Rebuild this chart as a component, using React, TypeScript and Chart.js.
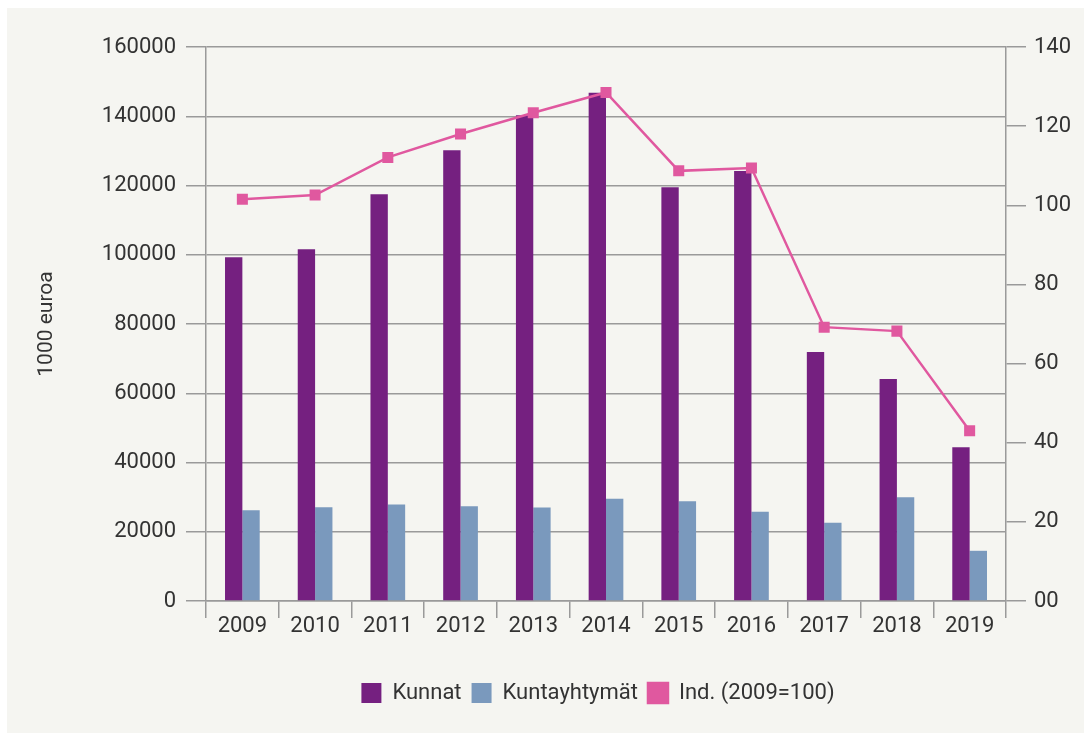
import React, { useEffect, useRef } from "react";
import { Chart, registerables } from "chart.js";

Chart.register(...registerables);

const years = ["2009", "2010", "2011", "2012", "2013", "2014", "2015", "2016", "2017", "2018", "2019"];
const kunnat = [99300, 101600, 117500, 130200, 140300, 146800, 119500, 124200, 71900, 64100, 44400];
const kuntayhtymat = [26200, 27100, 27900, 27400, 27000, 29500, 28800, 25800, 22600, 30000, 14500];
const indeksi = [101.5, 102.6, 112.1, 118.0, 123.4, 128.5, 108.7, 109.4, 69.2, 68.2, 43.0];

const seriesNames = ["Kunnat", "Kuntayhtymät", "Ind. (2009=100)"];
const yTitle = "1000 euroa";

const FONT = "Roboto";
const TEXT = "#333333";
const GRID = "#9a9a9a";

const legendShift = {
  id: "legendShift",
  afterLayout(chart: any) {
    const lg = chart.legend;
    if (lg) {
      lg.left -= 8;
      lg.right -= 8;
    }
  },
};

export default function App() {
  const ref = useRef<HTMLCanvasElement | null>(null);

  useEffect(() => {
    if (!ref.current) return;
    const chart = new Chart(ref.current, {
      type: "bar",
      plugins: [legendShift],
      data: {
        labels: years,
        datasets: [
          {
            label: seriesNames[0],
            data: kunnat,
            backgroundColor: "#752080",
            borderWidth: 0,
            yAxisID: "y",
            categoryPercentage: 0.477,
            barPercentage: 1,
            order: 1,
          },
          {
            label: seriesNames[1],
            data: kuntayhtymat,
            backgroundColor: "#7a99bd",
            borderWidth: 0,
            yAxisID: "y",
            categoryPercentage: 0.477,
            barPercentage: 1,
            order: 1,
          },
          {
            type: "line",
            label: seriesNames[2],
            data: indeksi,
            borderColor: "#e0589f",
            backgroundColor: "#e0589f",
            borderWidth: 2.5,
            pointStyle: "rect",
            pointRadius: 7.8,
            pointBorderWidth: 0,
            pointBackgroundColor: "#e0589f",
            yAxisID: "y1",
            order: 0,
          } as any,
        ],
      },
      options: {
        animation: false,
        responsive: false,
        maintainAspectRatio: false,
        layout: { padding: { left: 0, right: 0, top: 39, bottom: 19 } },
        plugins: {
          tooltip: { enabled: false },
          legend: {
            position: "bottom",
            fullSize: false,
            labels: {
              boxWidth: 20,
              boxHeight: 20,
              padding: 10,
              color: TEXT,
              font: { family: FONT, size: 22 },
              sort: (a: any, b: any) => a.datasetIndex - b.datasetIndex,
            },
          },
        },
        scales: {
          x: {
            offset: true,
            afterFit: (s: any) => {
              s.height = 71;
            },
            grid: {
              offset: true,
              drawOnChartArea: false,
              drawTicks: true,
              tickLength: 17,
              color: GRID,
              lineWidth: 1.5,
            },
            border: { display: true, color: GRID, width: 1.5 },
            ticks: { color: TEXT, font: { family: FONT, size: 22 }, padding: -5, maxRotation: 0 },
          },
          y: {
            position: "left",
            min: 0,
            max: 160000,
            afterFit: (s: any) => {
              s.width = 199;
            },
            ticks: {
              stepSize: 20000,
              color: TEXT,
              padding: 10,
              font: { family: FONT, size: 22 },
              callback: (v: any) => String(v),
            },
            grid: { color: GRID, lineWidth: 1.5, tickLength: 20, drawTicks: true },
            border: { display: true, color: GRID, width: 1.5 },
            title: {
              display: true,
              text: yTitle,
              color: TEXT,
              font: { family: FONT, size: 21 },
              padding: { top: 27.5, bottom: 30 },
            },
          },
          y1: {
            position: "right",
            min: 0,
            max: 140,
            afterFit: (s: any) => {
              s.width = 78;
            },
            ticks: {
              stepSize: 20,
              color: TEXT,
              padding: 8,
              font: { family: FONT, size: 22 },
              callback: (v: any) => (Number(v) === 0 ? "00" : String(v)),
            },
            grid: { drawOnChartArea: false, drawTicks: true, tickLength: 20, color: GRID, lineWidth: 1.5 },
            border: { display: true, color: GRID, width: 1.5 },
          },
        },
      },
    });
    return () => chart.destroy();
  }, []);

  return (
    <div
      style={{
        position: "fixed",
        left: 7,
        top: 8,
        width: 1077,
        height: 725,
        background: "#f5f5f1",
      }}
    >
      <canvas ref={ref} width={1077} height={725} style={{ display: "block" }} />
    </div>
  );
}
